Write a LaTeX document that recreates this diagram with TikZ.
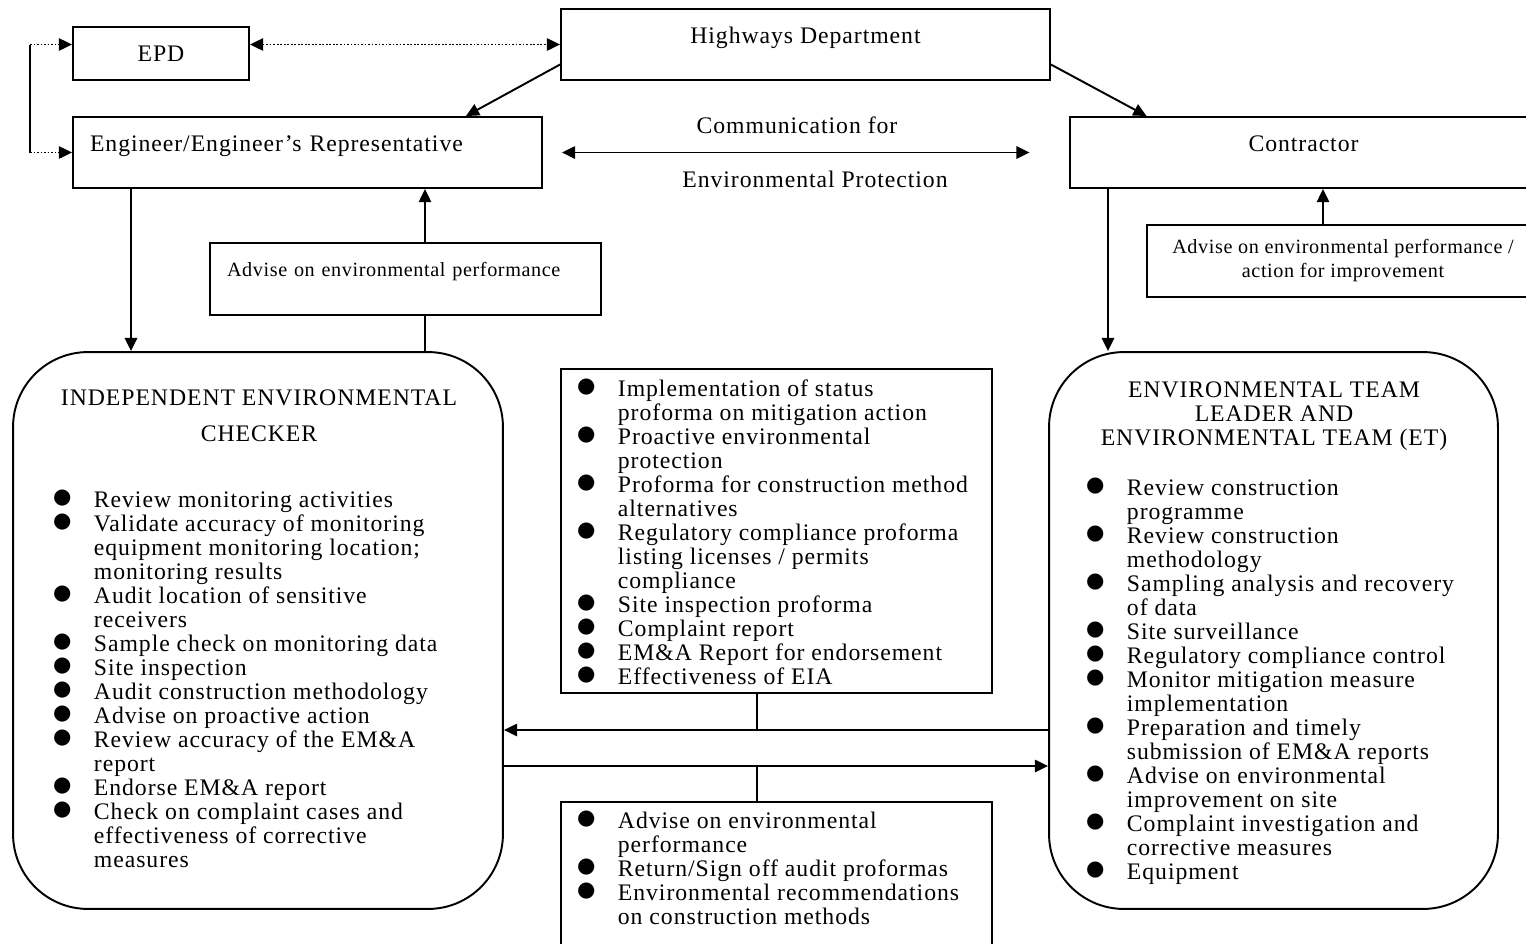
\documentclass[tikz,border=0pt]{standalone}
\usepackage{fontspec}
\setmainfont{Liberation Serif}[LetterSpace=4]
\newfontfamily\dotfont{DejaVu Sans}
\usepackage{tikz}
\usetikzlibrary{arrows.meta, positioning, calc}

\newcommand{\bul}{\strut\makebox[0.74cm][l]{\kern-2.2pt\raisebox{2.2pt}[0pt][0pt]{\fontsize{12}{12}\dotfont ●}}}
\newcommand{\ind}{\makebox[0.74cm]{}}

\begin{document}
\begin{tikzpicture}[
    x=0.02cm, y=-0.02cm,
    >={Triangle[length=7.5pt,width=7pt]},
    line width=1.1pt,
    box/.style={rectangle, draw, inner sep=0pt},
    roundbox/.style={rectangle, draw, rounded corners=1.5cm, inner sep=0pt},
    bigtext/.style={font=\fontsize{13.5}{13.66}\selectfont},
    smalltext/.style={font=\fontsize{11.5}{13.66}\selectfont\addfontfeature{LetterSpace=3}},
    uptext/.style={text height=9pt, text depth=10pt},
    listbox/.style={anchor=north west, inner sep=0pt, align=left, bigtext},
    dotline/.style={densely dotted, line width=1pt}
]
\useasboundingbox (0,0) rectangle (1526,944);

\node[box, bigtext, minimum width=3.52cm, minimum height=1.06cm] (epd) at (161,53.5) {EPD};
\node[box, bigtext, uptext, minimum width=9.78cm, minimum height=1.42cm] (hwd) at (805.5,44.5) {Highways Department};
\node[box, bigtext, uptext, minimum height=1.42cm, text width=8.7cm, inner xsep=0.34cm, align=left] (eng) at (307.5,152.5) {Engineer/Engineer's Representative};
\node[box, bigtext, uptext, minimum width=9.36cm, minimum height=1.42cm] (contr) at (1303.5,152.5) {Contractor};
\node[box, smalltext, text height=8pt, text depth=10.3pt, minimum height=1.44cm, text width=7.14cm, inner xsep=0.34cm, align=left] (advl) at (405.5,279) {Advise on environmental performance};
\node[box, smalltext, minimum width=7.84cm, minimum height=1.44cm, align=center] (advr) at (1343,261) {Advise on environmental performance /\\action for improvement};

\node[bigtext] (commtop) at (797,125) {Communication for};
\node[bigtext] (commbot) at (815,179) {Environmental Protection};

\node[roundbox, minimum width=9.8cm, minimum height=11.14cm] (iec) at (258,630.5) {};
\node[roundbox, minimum width=8.98cm, minimum height=11.14cm] (et) at (1273.5,630.5) {};
\node[box, minimum width=8.62cm, minimum height=6.48cm] (midtop) at (776.5,531) {};
\node[box, minimum width=8.62cm, minimum height=4cm] (midbot) at (776.5,902) {};

\node[bigtext, align=center] (iectitle) at (259,416) {INDEPENDENT ENVIRONMENTAL\\[6.8pt]CHECKER};
\node[bigtext, align=center] (ettitle) at (1274,416) {ENVIRONMENTAL TEAM\\LEADER AND\\ENVIRONMENTAL TEAM (ET)};

\node[listbox] (ieclist) at (56,489.7) {\bul Review monitoring activities\\
\bul Validate accuracy of monitoring\\
\ind equipment monitoring location;\\
\ind monitoring results\\
\bul Audit location of sensitive\\
\ind receivers\\
\bul Sample check on monitoring data\\
\bul Site inspection\\
\bul Audit construction methodology\\
\bul Advise on proactive action\\
\bul Review accuracy of the EM\&A\\
\ind report\\
\bul Endorse EM\&A report\\
\bul Check on complaint cases and\\
\ind effectiveness of corrective\\
\ind measures};

\node[listbox] (midtoplist) at (580,378.7) {\bul Implementation of status\\
\ind proforma on mitigation action\\
\bul Proactive environmental\\
\ind protection\\
\bul Proforma for construction method\\
\ind alternatives\\
\bul Regulatory compliance proforma\\
\ind listing licenses / permits\\
\ind compliance\\
\bul Site inspection proforma\\
\bul Complaint report\\
\bul EM\&A Report for endorsement\\
\bul Effectiveness of EIA};

\node[listbox] (midbotlist) at (580,810.7) {\bul Advise on environmental\\
\ind performance\\
\bul Return/Sign off audit proformas\\
\bul Environmental recommendations\\
\ind on construction methods};

\node[listbox] (etlist) at (1089,477.7) {\bul Review construction\\
\ind programme\\
\bul Review construction\\
\ind methodology\\
\bul Sampling analysis and recovery\\
\ind of data\\
\bul Site surveillance\\
\bul Regulatory compliance control\\
\bul Monitor mitigation measure\\
\ind implementation\\
\bul Preparation and timely\\
\ind submission of EM\&A reports\\
\bul Advise on environmental\\
\ind improvement on site\\
\bul Complaint investigation and\\
\ind corrective measures\\
\bul Equipment};

\coordinate (engx) at (131,0);
\coordinate (advlx) at (425,0);
\coordinate (contrx) at (1108,0);
\coordinate (advrx) at (1323,0);
\coordinate (midx) at (757,0);
\coordinate (upline) at (0,730);
\coordinate (lowline) at (0,766);
\coordinate (loopx) at (30,0);

\draw[<->, dotline] (epd.east |- hwd.west) -- (hwd.west);
\draw[->, dotline] (loopx |- hwd.west) -- (epd.west |- hwd.west);
\draw[->, dotline] (loopx |- eng.west) -- (eng.west);
\draw[line width=0.9pt] (loopx |- hwd.west) -- (loopx |- eng.west);
\draw[->] ([yshift=-0.4cm]hwd.west) -- ([xshift=-1.54cm]eng.north east);
\draw[->] ([yshift=-0.4cm]hwd.east) -- ([xshift=1.56cm]contr.north west);
\draw[<->] ([xshift=0.38cm]eng.east) -- ([xshift=-0.78cm]contr.west);

\draw[->] (engx |- eng.south) -- (engx |- iec.north);
\draw (advlx |- iec.north) -- (advlx |- advl.south);
\draw[->] (advlx |- advl.north) -- (advlx |- eng.south);
\draw[->] (contrx |- contr.south) -- (contrx |- et.north);
\draw[->] (advrx |- advr.north) -- (advrx |- contr.south);

\draw (midx |- midtop.south) -- (midx |- upline);
\draw[->] (et.west |- upline) -- (iec.east |- upline);
\draw[->] (iec.east |- lowline) -- (et.west |- lowline);
\draw (midx |- lowline) -- (midx |- midbot.north);
\end{tikzpicture}
\end{document}
